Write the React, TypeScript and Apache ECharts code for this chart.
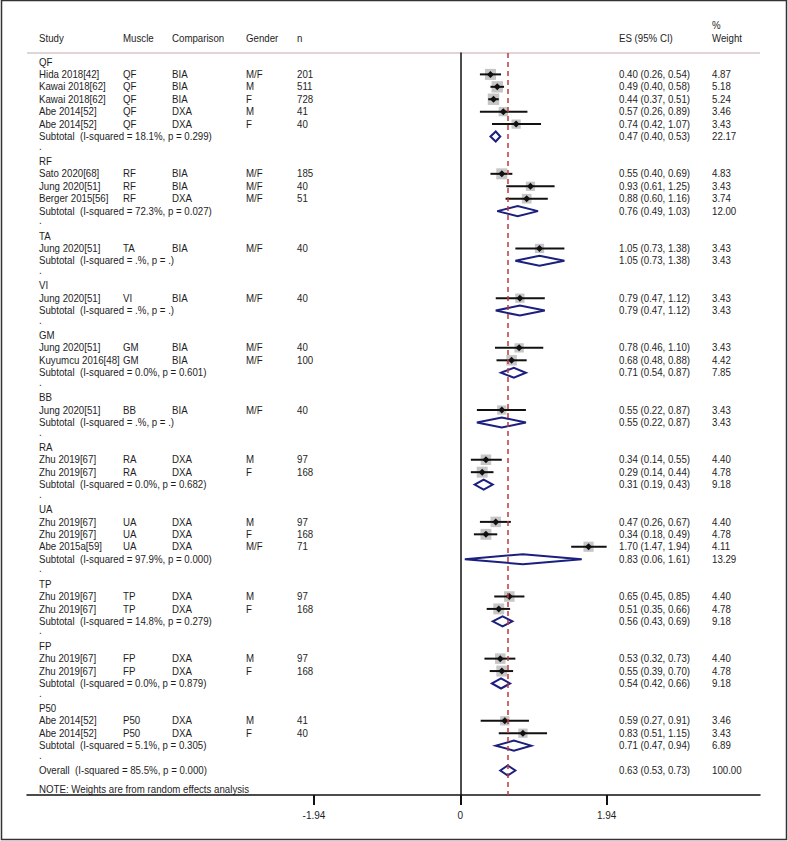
import React, { useEffect, useRef } from "react";
import * as echarts from "echarts";

// ---------- DATA ----------
const groupNames = ["QF", "RF", "TA", "VI", "GM", "BB", "RA", "UA", "TP", "FP", "P50"];

// study rows: [group index]
const studyGroup = [0, 0, 0, 0, 0, 1, 1, 1, 2, 3, 4, 4, 5, 6, 6, 7, 7, 7, 8, 8, 9, 9, 10, 10];
const studyNames = [
  "Hida 2018[42]", "Kawai 2018[62]", "Kawai 2018[62]", "Abe 2014[52]", "Abe 2014[52]",
  "Sato 2020[68]", "Jung 2020[51]", "Berger 2015[56]",
  "Jung 2020[51]",
  "Jung 2020[51]",
  "Jung 2020[51]", "Kuyumcu 2016[48]",
  "Jung 2020[51]",
  "Zhu 2019[67]", "Zhu 2019[67]",
  "Zhu 2019[67]", "Zhu 2019[67]", "Abe 2015a[59]",
  "Zhu 2019[67]", "Zhu 2019[67]",
  "Zhu 2019[67]", "Zhu 2019[67]",
  "Abe 2014[52]", "Abe 2014[52]",
];
const studyMuscle = ["QF", "QF", "QF", "QF", "QF", "RF", "RF", "RF", "TA", "VI", "GM", "GM", "BB", "RA", "RA", "UA", "UA", "UA", "TP", "TP", "FP", "FP", "P50", "P50"];
const studyComparison = ["BIA", "BIA", "BIA", "DXA", "DXA", "BIA", "BIA", "DXA", "BIA", "BIA", "BIA", "BIA", "BIA", "DXA", "DXA", "DXA", "DXA", "DXA", "DXA", "DXA", "DXA", "DXA", "DXA", "DXA"];
const studyGender = ["M/F", "M", "F", "M", "F", "M/F", "M/F", "M/F", "M/F", "M/F", "M/F", "M/F", "M/F", "M", "F", "M", "F", "M/F", "M", "F", "M", "F", "M", "F"];
const studyN = ["201", "511", "728", "41", "40", "185", "40", "51", "40", "40", "40", "100", "40", "97", "168", "97", "168", "71", "97", "168", "97", "168", "41", "40"];
const studyES = [0.40, 0.49, 0.44, 0.57, 0.74, 0.55, 0.93, 0.88, 1.05, 0.79, 0.78, 0.68, 0.55, 0.34, 0.29, 0.47, 0.34, 1.70, 0.65, 0.51, 0.53, 0.55, 0.59, 0.83];
const studyLo = [0.26, 0.40, 0.37, 0.26, 0.42, 0.40, 0.61, 0.60, 0.73, 0.47, 0.46, 0.48, 0.22, 0.14, 0.14, 0.26, 0.18, 1.47, 0.45, 0.35, 0.32, 0.39, 0.27, 0.51];
const studyHi = [0.54, 0.58, 0.51, 0.89, 1.07, 0.69, 1.25, 1.16, 1.38, 1.12, 1.10, 0.88, 0.87, 0.55, 0.44, 0.67, 0.49, 1.94, 0.85, 0.66, 0.73, 0.70, 0.91, 1.15];
const studyWeight = ["4.87", "5.18", "5.24", "3.46", "3.43", "4.83", "3.43", "3.74", "3.43", "3.43", "3.43", "4.42", "3.43", "4.40", "4.78", "4.40", "4.78", "4.11", "4.40", "4.78", "4.40", "4.78", "3.46", "3.43"];

// subtotals per group
const subHet = [
  "(I-squared = 18.1%, p = 0.299)", "(I-squared = 72.3%, p = 0.027)", "(I-squared = .%, p = .)",
  "(I-squared = .%, p = .)", "(I-squared = 0.0%, p = 0.601)", "(I-squared = .%, p = .)",
  "(I-squared = 0.0%, p = 0.682)", "(I-squared = 97.9%, p = 0.000)", "(I-squared = 14.8%, p = 0.279)",
  "(I-squared = 0.0%, p = 0.879)", "(I-squared = 5.1%, p = 0.305)",
];
const subES = [0.47, 0.76, 1.05, 0.79, 0.71, 0.55, 0.31, 0.83, 0.56, 0.54, 0.71];
const subLo = [0.40, 0.49, 0.73, 0.47, 0.54, 0.22, 0.19, 0.06, 0.43, 0.42, 0.47];
const subHi = [0.53, 1.03, 1.38, 1.12, 0.87, 0.87, 0.43, 1.61, 0.69, 0.66, 0.94];
const subWeight = ["22.17", "12.00", "3.43", "3.43", "7.85", "3.43", "9.18", "13.29", "9.18", "9.18", "6.89"];

const overallHet = "(I-squared = 85.5%, p = 0.000)";
const overallES = 0.63;
const overallLo = 0.53;
const overallHi = 0.73;
const overallWeight = "100.00";

const headers = ["Study", "Muscle", "Comparison", "Gender", "n", "ES (95% CI)"];
const noteText = "NOTE: Weights are from random effects analysis";
const xTicks = [-1.94, 0, 1.94];

// ---------- BUILD ROWS ----------
type Row = {
  kind: "group" | "study" | "sub" | "dot" | "overall";
  texts: string[];
  es?: number; lo?: number; hi?: number; w?: number;
};
const fmt = (v: number) => v.toFixed(2);
const ci = (e: number, l: number, h: number) => `${fmt(e)} (${fmt(l)}, ${fmt(h)})`;

const rows: Row[] = [];
groupNames.forEach((g, gi) => {
  rows.push({ kind: "group", texts: [g] });
  studyGroup.forEach((sg, si) => {
    if (sg !== gi) return;
    rows.push({
      kind: "study",
      texts: [studyNames[si], studyMuscle[si], studyComparison[si], studyGender[si], studyN[si], ci(studyES[si], studyLo[si], studyHi[si]), studyWeight[si]],
      es: studyES[si], lo: studyLo[si], hi: studyHi[si], w: parseFloat(studyWeight[si]),
    });
  });
  rows.push({
    kind: "sub",
    texts: ["Subtotal  " + subHet[gi], ci(subES[gi], subLo[gi], subHi[gi]), subWeight[gi]],
    es: subES[gi], lo: subLo[gi], hi: subHi[gi],
  });
  rows.push({ kind: "dot", texts: ["."] });
});
rows.push({
  kind: "overall",
  texts: ["Overall  " + overallHet, ci(overallES, overallLo, overallHi), overallWeight],
  es: overallES, lo: overallLo, hi: overallHi,
});

// ---------- LAYOUT CONSTANTS ----------
const FONT = "'Liberation Sans', Arial, sans-serif";
const FS = 9.7;
const SY = 1.08;
const TXT = "#1e1e1e";
const COLX = [39, 123, 172, 246, 297, 619, 712];
const NAVY = "#1b1f7e";

const txt = (x: number, y: number, text: string) => ({
  type: "text",
  x,
  y,
  scaleY: SY,
  silent: true,
  style: { text, fill: TXT, font: `${FS}px ${FONT}`, verticalAlign: "middle", align: "left" },
});

export default function App() {
  const ref = useRef<HTMLDivElement>(null);
  useEffect(() => {
    if (!ref.current) return;
    const chart = echarts.init(ref.current, null, { renderer: "svg" });

    const markData: number[][] = [];
    rows.forEach((r, i) => {
      if (r.kind === "study") markData.push([r.es!, r.lo!, r.hi!, i, r.w!, 0]);
      if (r.kind === "sub" || r.kind === "overall") markData.push([r.es!, r.lo!, r.hi!, i, 0, 1]);
    });
    const textData = rows.map((_, i) => [0, i]);

    const option: any = {
      animation: false,
      backgroundColor: "#ffffff",
      grid: { left: 27, width: 733, top: 53, bottom: 46, containLabel: false },
      xAxis: {
        type: "value",
        min: -5.744,
        max: 3.973,
        axisLine: { show: true, onZero: false, lineStyle: { color: "#111", width: 1.5 } },
        axisTick: { show: true, customValues: xTicks, length: 10, lineStyle: { color: "#111", width: 2 } },
        axisLabel: {
          show: true,
          customValues: xTicks,
          margin: 15,
          fontFamily: FONT,
          fontSize: 10,
          color: TXT,
          formatter: (v: number) => String(v),
        },
        splitLine: { show: false },
      },
      yAxis: {
        type: "value",
        inverse: true,
        min: -0.72,
        max: 58.97,
        axisLine: { show: true, onZero: true, lineStyle: { color: "#111", width: 1.5 } },
        axisTick: { show: false },
        axisLabel: { show: false },
        splitLine: { show: false },
      },
      series: [
        {
          type: "line",
          data: [],
          z: 1,
          silent: true,
          markLine: {
            silent: true,
            symbol: ["none", "none"],
            label: { show: false },
            lineStyle: { color: "#c0393b", type: [5, 4], width: 1.5 },
            data: [{ xAxis: overallES }],
          },
        },
        {
          type: "custom",
          z: 3,
          silent: true,
          data: markData,
          encode: { x: [0, 1, 2], y: 3 },
          renderItem: (params: any, api: any) => {
            const row = api.value(3);
            const c = api.coord([api.value(0), row]);
            const l = api.coord([api.value(1), row]);
            const h = api.coord([api.value(2), row]);
            const kind = api.value(5);
            if (kind === 0) {
              const side = 5 * Math.sqrt(api.value(4));
              const d = 3.5;
              return {
                type: "group",
                children: [
                  { type: "rect", shape: { x: c[0] - side / 2, y: c[1] - side / 2, width: side, height: side }, style: { fill: "#c6c6c6" } },
                  { type: "line", shape: { x1: l[0], y1: c[1], x2: h[0], y2: c[1] }, style: { stroke: "#111", lineWidth: 2 } },
                  { type: "polygon", shape: { points: [[c[0] - d, c[1]], [c[0], c[1] - d], [c[0] + d, c[1]], [c[0], c[1] + d]] }, style: { fill: "#111" } },
                ],
              };
            }
            const hh = 5;
            return {
              type: "polygon",
              shape: { points: [[l[0], c[1]], [c[0], c[1] - hh], [h[0], c[1]], [c[0], c[1] + hh]] },
              style: { fill: "#fff", stroke: NAVY, lineWidth: 2 },
            };
          },
        },
        {
          type: "custom",
          z: 4,
          silent: true,
          data: textData,
          encode: { x: 0, y: 1 },
          renderItem: (params: any, api: any) => {
            const i = api.value(1);
            const r = rows[i];
            const y = api.coord([0, i])[1];
            let xs: number[] = [];
            if (r.kind === "study") xs = COLX;
            else if (r.kind === "sub" || r.kind === "overall") xs = [COLX[0], COLX[5], COLX[6]];
            else xs = [COLX[0]];
            return {
              type: "group",
              children: r.texts.map((t, k) => txt(xs[k], r.kind === "dot" ? y - 3 : y, t)),
            };
          },
        },
      ],
      graphic: [
        { type: "rect", shape: { x: 1.5, y: 0.5, width: 785, height: 839 }, style: { fill: "none", stroke: "#333", lineWidth: 1.5 }, silent: true },
        { type: "line", shape: { x1: 27, y1: 53, x2: 760, y2: 53 }, style: { stroke: "#d6c6c6", lineWidth: 1.5 }, silent: true },
        ...headers.map((h, k) => txt(COLX[k], 38, h)),
        txt(COLX[6], 25, "%"),
        txt(COLX[6], 38, "Weight"),
        txt(COLX[0], 789, noteText),
      ],
    };
    chart.setOption(option);
    return () => chart.dispose();
  }, []);
  return (
    <div
      ref={ref}
      style={{ position: "absolute", left: 0, top: 0, width: 788, height: 841, background: "#fff" }}
    />
  );
}
